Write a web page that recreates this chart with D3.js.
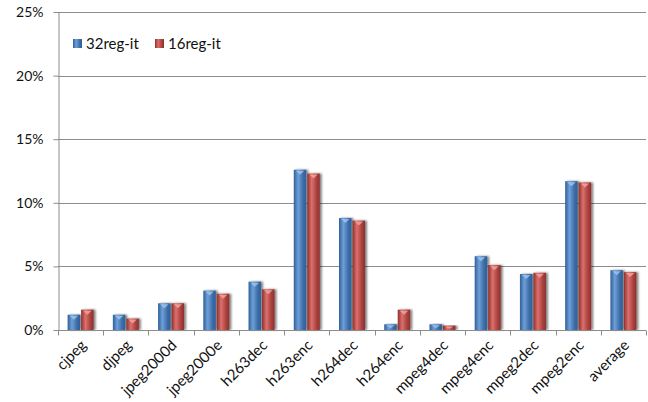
<!DOCTYPE html>
<html>
<head>
<meta charset="utf-8">
<script src="https://cdn.jsdelivr.net/npm/d3@7"></script>
<style>
  html, body { margin: 0; padding: 0; background: #fff; }
  svg { display: block; }
  text { font-family: Lato, "Open Sans", "Noto Sans", sans-serif; fill: #111; }
</style>
</head>
<body>
<svg id="chart" width="648" height="402"></svg>
<script>
// Benchmarks along the x axis
const categories = ["cjpeg", "djpeg", "jpeg2000d", "jpeg2000e", "h263dec", "h263enc",
  "h264dec", "h264enc", "mpeg4dec", "mpeg4enc", "mpeg2dec", "mpeg2enc", "average"];

// Percent values per configuration
const seriesNames = ["32reg-it", "16reg-it"];
const reg32 = [1.2, 1.2, 2.1, 3.1, 3.8, 12.6, 8.8, 0.45, 0.45, 5.8, 4.4, 11.7, 4.7];
const reg16 = [1.6, 0.9, 2.1, 2.85, 3.2, 12.3, 8.6, 1.6, 0.35, 5.1, 4.5, 11.6, 4.55];

const yTicks = [0, 5, 10, 15, 20, 25];

const svg = d3.select("#chart");
const margin = { left: 58, right: 2, top: 12, bottom: 72 };
const W = 648, H = 402;

const x0 = d3.scaleBand().domain(categories)
  .range([margin.left, W - margin.right]).paddingInner(0).paddingOuter(0);
const x1 = d3.scaleBand().domain(seriesNames)
  .range([0, 27]);
const y = d3.scaleLinear().domain([0, 25]).range([H - margin.bottom, margin.top]);

const colors = { "32reg-it": ["#2f5f97", "#6e9fd8", "#3c6ca6"], "16reg-it": ["#8e302d", "#dc706c", "#a8413e"] };

// Gradients give the bars a rounded, lit look
const defs = svg.append("defs");
seriesNames.forEach((s, i) => {
  const g = defs.append("linearGradient").attr("id", "g" + i)
    .attr("x1", "0").attr("x2", "1").attr("y1", "0").attr("y2", "0");
  g.append("stop").attr("offset", "0").attr("stop-color", colors[s][0]);
  g.append("stop").attr("offset", "0.35").attr("stop-color", colors[s][1]);
  g.append("stop").attr("offset", "0.75").attr("stop-color", colors[s][2]);
  g.append("stop").attr("offset", "1").attr("stop-color", colors[s][0]);
});
const shadow = defs.append("filter").attr("id", "shadow")
  .attr("x", "-30%").attr("y", "-10%").attr("width", "160%").attr("height", "130%");
shadow.append("feGaussianBlur").attr("in", "SourceAlpha").attr("stdDeviation", 1);
shadow.append("feOffset").attr("dx", 1.5).attr("dy", 0).attr("result", "b");
shadow.append("feComponentTransfer").append("feFuncA").attr("type", "linear").attr("slope", 0.5);
const merge = shadow.append("feMerge");
merge.append("feMergeNode");
merge.append("feMergeNode").attr("in", "SourceGraphic");

// Horizontal gridlines
svg.append("g").selectAll("line").data(yTicks.filter(d => d > 0)).join("line")
  .attr("x1", margin.left).attr("x2", W - margin.right)
  .attr("y1", d => Math.round(y(d)) + 0.5).attr("y2", d => Math.round(y(d)) + 0.5)
  .attr("stroke", "#8c8c8c").attr("stroke-width", 1);

// Y axis
const yAxis = svg.append("g")
  .attr("transform", `translate(${margin.left + 0.5},0)`)
  .call(d3.axisLeft(y).tickValues(yTicks).tickFormat(d => d + "%").tickSize(5).tickSizeOuter(0));
yAxis.select(".domain").attr("stroke", "#8c8c8c");
yAxis.selectAll(".tick line").attr("stroke", "#8c8c8c");
yAxis.selectAll(".tick text").attr("x", -15).style("font-size", "14px")
  .style("font-family", "Lato, 'Open Sans', sans-serif");

// Bars
const data = categories.map((c, i) => ({ c, vals: [reg32[i], reg16[i]] }));
const groups = svg.append("g").selectAll("g").data(data).join("g")
  .attr("transform", d => `translate(${x0(d.c) + (x0.bandwidth() - 27) / 2 + 0.5},0)`);
groups.selectAll("rect").data(d => d.vals.map((v, i) => ({ s: seriesNames[i], v, i }))).join("rect")
  .attr("x", d => x1(d.s))
  .attr("width", x1.bandwidth() - 1)
  .attr("y", d => y(d.v))
  .attr("height", d => y(0) - y(d.v))
  .attr("fill", d => `url(#g${d.i})`)
  .attr("filter", "url(#shadow)");
// Small bevel highlight at the top of each bar
groups.selectAll("path.cap").data(d => d.vals.map((v, i) => ({ s: seriesNames[i], v, i }))).join("path")
  .attr("class", "cap")
  .attr("d", d => {
    const bx = x1(d.s), bw = x1.bandwidth() - 1, ty = y(d.v);
    const h = Math.min(4, (y(0) - ty) / 2);
    return `M${bx + 2},${ty + 1}L${bx + bw - 2},${ty + 1}L${bx + bw / 2},${ty + 1 + h}Z`;
  })
  .attr("fill", d => d.i === 0 ? "#9cc3ee" : "#f0a3a0")
  .attr("opacity", 0.85);

// X axis baseline and category ticks
const xAxis = svg.append("g")
  .attr("transform", `translate(0,${Math.round(y(0)) + 0.5})`);
xAxis.append("line").attr("x1", margin.left).attr("x2", W - margin.right)
  .attr("stroke", "#8c8c8c");
const bounds = categories.map(c => x0(c)).concat([x0(categories[categories.length - 1]) + x0.bandwidth()]);
xAxis.selectAll("line.tk").data(bounds).join("line").attr("class", "tk")
  .attr("x1", d => Math.round(d) + 0.5).attr("x2", d => Math.round(d) + 0.5)
  .attr("y1", 0).attr("y2", 5).attr("stroke", "#8c8c8c");
xAxis.selectAll("text").data(categories).join("text")
  .attr("transform", d => `translate(${x0(d) + x0.bandwidth() / 2 + 3},${12}) rotate(-45)`)
  .attr("text-anchor", "end")
  .attr("dy", "0.35em")
  .style("font-size", "15px")
  .text(d => d);

// Legend
const legend = svg.append("g").attr("transform", "translate(73,39)");
const legendX = [0, 82];
seriesNames.forEach((s, i) => {
  const g = legend.append("g").attr("transform", `translate(${legendX[i]},0)`);
  g.append("rect").attr("width", 9).attr("height", 9).attr("fill", `url(#g${i})`);
  g.append("text").attr("x", 13).attr("y", 5).attr("dy", "0.35em")
    .style("font-size", "15px").text(s);
});
</script>
</body>
</html>
